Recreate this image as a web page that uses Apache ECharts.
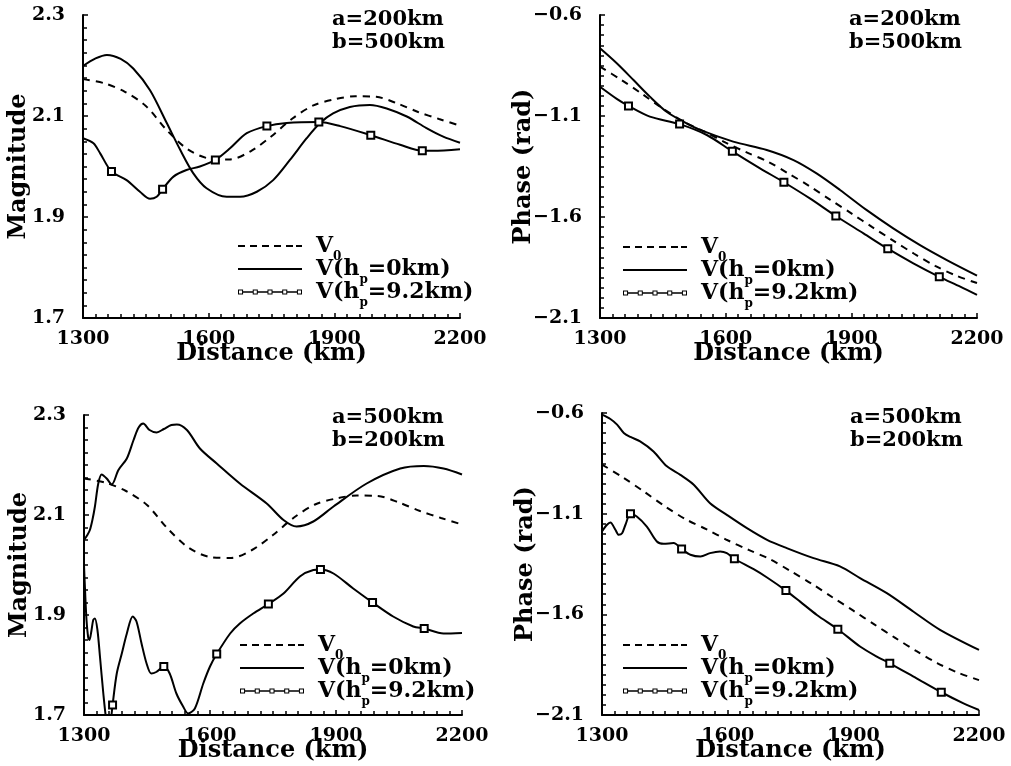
<!DOCTYPE html>
<html>
<head>
<meta charset="utf-8">
<script src="https://cdn.jsdelivr.net/npm/echarts/dist/echarts.min.js"></script>
<style>
html,body{margin:0;padding:0;background:#fff;}
#c{width:1011px;height:766px;}
</style>
</head>
<body>
<div id="c"></div>
<script>
// ---------- DATA ----------
const xTicks = [1300, 1600, 1900, 2200];
const magTicks = [1.7, 1.9, 2.1, 2.3];
const phaseTicks = [-2.1, -1.6, -1.1, -0.6];
const markerKm = [1368, 1490, 1616, 1739, 1863, 1987, 2110];
const annotations = ['a=200km\nb=500km', 'a=200km\nb=500km', 'a=500km\nb=200km', 'a=500km\nb=200km'];
const seriesNames = ['V0', 'V(hp=0km)', 'V(hp=9.2km)'];

// V0 (same reference curve for both magnitude panels)
const magV0Km = [1300,1350,1400,1450,1500,1550,1600,1650,1700,1750,1800,1850,1900,1950,2000,2050,2100,2150,2200];
const magV0 = [2.173,2.165,2.148,2.120,2.072,2.034,2.016,2.014,2.030,2.060,2.095,2.121,2.133,2.139,2.138,2.125,2.108,2.094,2.081];

// V0 phase (shared by both phase panels)
const phaseV0Km = [1300,1350,1400,1450,1500,1550,1600,1650,1700,1750,1800,1850,1900,1950,2000,2050,2100,2150,2200];
const phaseV0 = [-0.856,-0.920,-0.990,-1.063,-1.128,-1.178,-1.232,-1.280,-1.325,-1.385,-1.447,-1.515,-1.582,-1.650,-1.717,-1.782,-1.842,-1.890,-1.927];

// Panel 1: magnitude, a=200km b=500km
const mag1H0Km = [1300,1330,1357,1390,1420,1460,1500,1532,1563,1595,1643,1675,1715,1754,1794,1834,1866,1897,1937,1985,2025,2073,2120,2160,2200];
const mag1H0 = [2.199,2.214,2.221,2.213,2.194,2.151,2.086,2.033,1.987,1.957,1.940,1.940,1.950,1.973,2.013,2.056,2.086,2.105,2.118,2.122,2.115,2.099,2.076,2.059,2.047];
const mag1H92Km = [1300,1325,1341,1368,1404,1436,1460,1476,1490,1516,1547,1579,1616,1651,1691,1739,1786,1863,1914,1987,2057,2110,2136,2200];
const mag1H92 = [2.056,2.046,2.026,1.990,1.973,1.950,1.936,1.940,1.955,1.980,1.993,2.000,2.013,2.036,2.066,2.080,2.086,2.088,2.080,2.062,2.043,2.031,2.031,2.034];

// Panel 2: phase, a=200km b=500km
const ph1H0Km = [1300,1340,1380,1419,1459,1499,1539,1618,1698,1762,1817,1873,1936,2000,2064,2128,2200];
const ph1H0 = [-0.765,-0.839,-0.922,-1.004,-1.079,-1.128,-1.169,-1.227,-1.268,-1.318,-1.384,-1.466,-1.565,-1.656,-1.739,-1.813,-1.890];
const ph1H92Km = [1300,1340,1368,1419,1490,1555,1616,1682,1739,1801,1863,1929,1987,2048,2110,2160,2200];
const ph1H92 = [-0.955,-1.015,-1.050,-1.103,-1.140,-1.194,-1.275,-1.359,-1.428,-1.508,-1.595,-1.681,-1.757,-1.829,-1.896,-1.945,-1.986];

// Panel 3: magnitude, a=500km b=200km
const mag2H0Km = [1300,1308,1314,1320,1326,1334,1342,1354,1366,1382,1402,1418,1430,1441,1456,1473,1490,1508,1521,1545,1576,1616,1671,1735,1775,1806,1846,1894,1973,2053,2109,2156,2200];
const mag2H0 = [2.050,2.060,2.070,2.090,2.117,2.163,2.181,2.173,2.161,2.190,2.213,2.250,2.275,2.283,2.270,2.265,2.272,2.280,2.281,2.270,2.233,2.203,2.163,2.123,2.090,2.077,2.087,2.117,2.163,2.193,2.198,2.193,2.181];
const mag2H92Km = [1300,1303,1306,1310,1313,1318,1322,1326,1332,1338,1346,1353,1359,1364,1368,1378,1390,1402,1416,1425,1437,1449,1460,1472,1490,1504,1520,1536,1548,1564,1584,1600,1616,1648,1671,1703,1739,1775,1814,1846,1863,1894,1941,1987,2036,2084,2110,2156,2200];
const mag2H92 = [2.000,1.940,1.890,1.855,1.850,1.870,1.890,1.893,1.870,1.817,1.743,1.690,1.670,1.690,1.720,1.783,1.823,1.863,1.897,1.887,1.843,1.803,1.783,1.786,1.797,1.783,1.743,1.717,1.703,1.713,1.763,1.797,1.822,1.863,1.883,1.903,1.922,1.943,1.977,1.990,1.991,1.983,1.953,1.925,1.897,1.877,1.873,1.863,1.864];

// Panel 4: phase, a=500km b=200km
const ph2H0Km = [1300,1320,1336,1352,1368,1391,1423,1455,1487,1519,1558,1598,1646,1694,1741,1805,1868,1916,1980,2043,2107,2200];
const ph2H0 = [-0.608,-0.630,-0.658,-0.699,-0.719,-0.741,-0.791,-0.865,-0.907,-0.956,-1.048,-1.106,-1.172,-1.230,-1.271,-1.321,-1.362,-1.420,-1.495,-1.586,-1.677,-1.777];
const ph2H92Km = [1300,1312,1320,1332,1340,1348,1356,1368,1383,1407,1431,1447,1471,1490,1511,1535,1558,1582,1598,1616,1662,1694,1739,1773,1813,1863,1916,1956,1987,2051,2110,2163,2200];
const ph2H92 = [-1.188,-1.155,-1.144,-1.180,-1.205,-1.197,-1.155,-1.101,-1.114,-1.164,-1.238,-1.250,-1.246,-1.276,-1.304,-1.313,-1.296,-1.288,-1.296,-1.324,-1.376,-1.417,-1.482,-1.537,-1.603,-1.674,-1.760,-1.810,-1.843,-1.918,-1.987,-2.042,-2.075];

// ---------- BUILD ----------
const FONT = 'DejaVu Serif';
const pairs = (km, v) => km.map((x, i) => [x, v[i]]);
const marked = (km, v) => km.map((x, i) => markerKm.indexOf(x) >= 0
  ? { value: [x, v[i]], symbol: 'emptyRect', symbolSize: 7 }
  : { value: [x, v[i]], symbol: 'none' });

const grids = [
  { left: 83, top: 15, width: 377, height: 303 },
  { left: 600, top: 15, width: 377, height: 303 },
  { left: 84, top: 415, width: 378, height: 300 },
  { left: 602, top: 413, width: 377, height: 302 }
];
const fmtY = v => (v < 0 ? '\u2212' : '') + Math.abs(v).toFixed(1);

function xAxis(gi) {
  return {
    type: 'value', gridIndex: gi, min: xTicks[0], max: xTicks[xTicks.length - 1],
    interval: xTicks[1] - xTicks[0],
    axisLine: { show: true, onZero: false, lineStyle: { color: '#000', width: 2 } },
    axisTick: { show: true, inside: true, length: 5, lineStyle: { color: '#000', width: 1.5 } },
    minorTick: { show: true, splitNumber: 10, length: 4, lineStyle: { color: '#000', width: 1.5 } },
    splitLine: { show: false },
    axisLabel: { color: '#000', fontFamily: FONT, fontWeight: 'bold', fontSize: 19, margin: 12,
      showMinLabel: true, showMaxLabel: true, formatter: v => String(Math.round(v)) },
    name: 'Distance (km)', nameLocation: 'middle', nameGap: 24, nameMoveOverlap: false,
    nameTextStyle: { color: '#000', fontFamily: FONT, fontWeight: 'bold', fontSize: 24 }
  };
}
function yAxis(gi, ticks, minorSplit, name, gap) {
  return {
    type: 'value', gridIndex: gi, min: ticks[0], max: ticks[ticks.length - 1],
    interval: +(ticks[1] - ticks[0]).toFixed(3),
    axisLine: { show: true, onZero: false, lineStyle: { color: '#000', width: 2 } },
    axisTick: { show: true, inside: true, length: 5, lineStyle: { color: '#000', width: 1.5 } },
    minorTick: { show: true, splitNumber: minorSplit, length: 4, lineStyle: { color: '#000', width: 1.5 } },
    splitLine: { show: false },
    axisLabel: { color: '#000', fontFamily: FONT, fontWeight: 'bold', fontSize: 19, margin: 18,
      showMinLabel: true, showMaxLabel: true, formatter: fmtY },
    name: name, nameLocation: 'middle', nameGap: gap, nameMoveOverlap: false,
    nameTextStyle: { color: '#000', fontFamily: FONT, fontWeight: 'bold', fontSize: 24 }
  };
}

const dashIcon = 'path://M0 4H7V6H0Z M12 4H19V6H12Z M24 4H31V6H24Z M36 4H43V6H36Z M48 4H55V6H48Z M58 4H64V6H58Z';
const solidIcon = 'path://M0 4H64V6H0Z';
function markIcon() {
  const cs = [3, 17.5, 32, 46.5, 61];
  let p = '';
  cs.forEach((c, i) => {
    p += `M${c - 2.5} 2.5H${c + 2.5}V7.5H${c - 2.5}Z M${c - 1.5} 3.5V6.5H${c + 1.5}V3.5Z `;
    if (i < cs.length - 1) p += `M${c + 2.5} 4.3H${cs[i + 1] - 2.5}V5.7H${c + 2.5}Z `;
  });
  return 'path://' + p;
}
const icons = [dashIcon, solidIcon, markIcon()];
const legendLabels = {
  'V0': 'V{s|0}',
  'V(hp=0km)': 'V(h{s|p}=0km)',
  'V(hp=9.2km)': 'V(h{s|p}=9.2km)'
};
const legendPos = [[238, 235], [623, 236], [240, 634], [623, 634]];
const titlePos = [[332, 8], [849, 8], [332, 406], [850, 406]];

function legend(i) {
  return {
    orient: 'vertical', left: legendPos[i][0], top: legendPos[i][1], padding: 0,
    itemWidth: 64, itemHeight: 10, itemGap: -5, selectedMode: false,
    itemStyle: { borderWidth: 0 },
    textStyle: {
      color: '#000', fontFamily: FONT, fontWeight: 'bold', fontSize: 22, lineHeight: 22, padding: [0, 0, 0, 9],
      rich: { s: { color: '#000', fontFamily: FONT, fontWeight: 'bold', fontSize: 12, lineHeight: 1, height: 0, verticalAlign: 'bottom' } }
    },
    formatter: n => legendLabels[n],
    data: seriesNames.map((n, k) => ({ name: n, icon: icons[k] }))
  };
}

function lineSeries(gi, name, data, kind) {
  const s = {
    type: 'line', name: name, xAxisIndex: gi, yAxisIndex: gi, data: data,
    smooth: 0.3, clip: true, silent: true,
    color: '#000',
    lineStyle: { color: '#000', width: 2, type: kind === 'dash' ? [7, 6] : 'solid' },
    itemStyle: { color: '#000', borderWidth: 2.2 },
    emphasis: { disabled: true },
    symbol: 'none', showSymbol: true, showAllSymbol: true
  };
  if (kind === 'mark') s.symbol = 'emptyRect';
  return s;
}

const panels = [
  { v0: pairs(magV0Km, magV0), h0: pairs(mag1H0Km, mag1H0), h92: marked(mag1H92Km, mag1H92) },
  { v0: pairs(phaseV0Km, phaseV0), h0: pairs(ph1H0Km, ph1H0), h92: marked(ph1H92Km, ph1H92) },
  { v0: pairs(magV0Km, magV0), h0: pairs(mag2H0Km, mag2H0), h92: marked(mag2H92Km, mag2H92) },
  { v0: pairs(phaseV0Km, phaseV0), h0: pairs(ph2H0Km, ph2H0), h92: marked(ph2H92Km, ph2H92) }
];

const series = [];
panels.forEach((p, gi) => {
  series.push(lineSeries(gi, seriesNames[0], p.v0, 'dash'));
  series.push(lineSeries(gi, seriesNames[1], p.h0, 'solid'));
  series.push(lineSeries(gi, seriesNames[2], p.h92, 'mark'));
});

const option = {
  animation: false,
  backgroundColor: '#fff',
  color: ['#000'],
  title: annotations.map((t, i) => ({
    text: t, left: titlePos[i][0], top: titlePos[i][1], padding: 0,
    textStyle: { color: '#000', fontFamily: FONT, fontWeight: 'bold', fontSize: 21, lineHeight: 23 }
  })),
  legend: [0, 1, 2, 3].map(legend),
  grid: grids.map(g => Object.assign({ containLabel: false, outerBoundsMode: 'none' }, g)),
  xAxis: [0, 1, 2, 3].map(xAxis),
  yAxis: [
    yAxis(0, magTicks, 8, 'Magnitude', 52),
    yAxis(1, phaseTicks, 10, 'Phase (rad)', 64),
    yAxis(2, magTicks, 8, 'Magnitude', 52),
    yAxis(3, phaseTicks, 10, 'Phase (rad)', 64)
  ],
  series: series
};

const chart = echarts.init(document.getElementById('c'), null, { renderer: 'canvas' });
chart.setOption(option);
</script>
</body>
</html>
